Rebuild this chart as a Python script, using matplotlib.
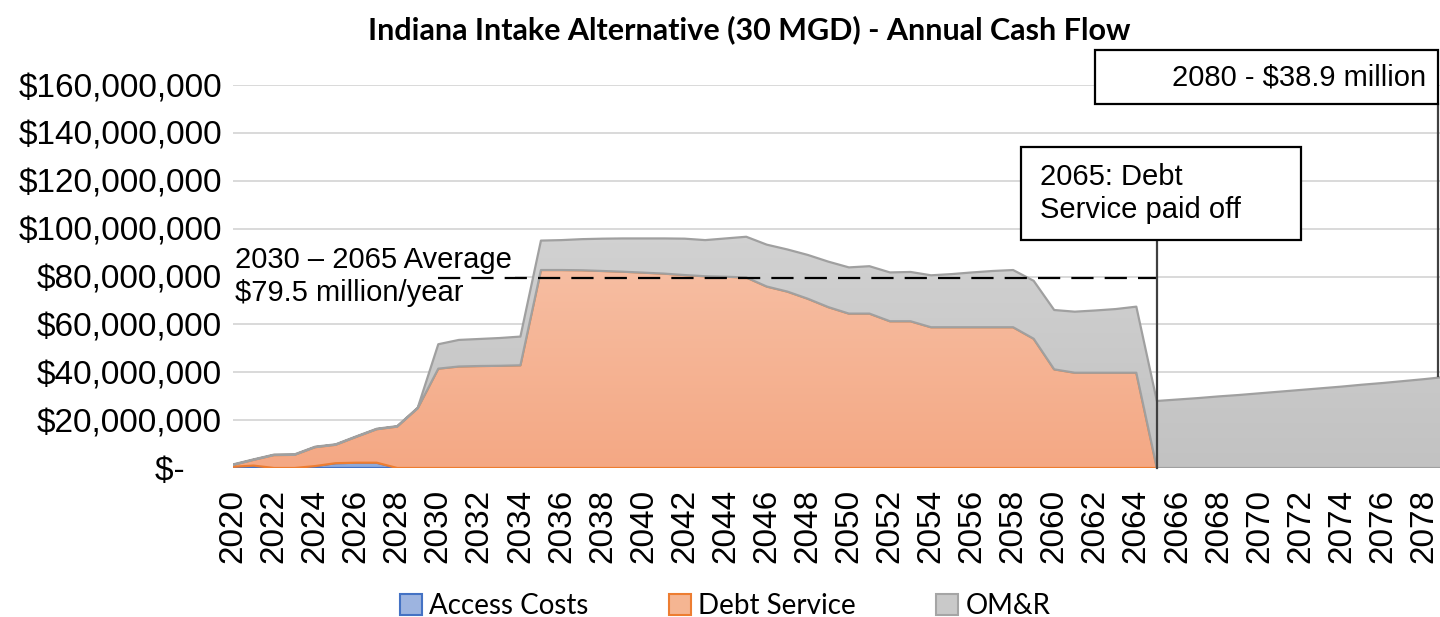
import numpy as np
import matplotlib.pyplot as plt
from matplotlib.colors import LinearSegmentedColormap
from matplotlib.patches import Patch, Rectangle
from matplotlib.ticker import FuncFormatter, MultipleLocator

# values in $ millions
years = list(range(2020, 2081))

access = [0.5, 1.0, 0.0, 0.0, 0.8, 2.0, 2.2, 2.2, 0.0, 0.0] + [0.0] * 51

debt = [0.8, 2.4, 5.4, 5.5, 7.9, 7.7, 10.8, 14.0, 17.3, 25.0,
        41.5, 42.4, 42.6, 42.7, 42.9, 82.7, 82.7, 82.6, 82.3, 82.0,
        81.6, 81.2, 80.6, 80.1, 79.9, 79.6, 75.8, 73.7, 70.7, 67.2,
        64.5, 64.5, 61.3, 61.3, 58.8, 58.8, 58.8, 58.8, 58.8, 54.0,
        41.2, 39.8, 39.8, 39.8, 39.8, 0.0]  # 2020-2065, paid off in 2065

omr = [0.2, 0.2, 0.2, 0.2, 0.2, 0.2, 0.2, 0.2, 0.2, 0.2,
       10.2, 11.1, 11.3, 11.6, 12.0, 12.3, 12.5, 13.0, 13.5, 13.9,
       14.3, 14.7, 15.2, 15.1, 16.0, 17.0, 17.5, 17.6, 18.3, 19.0,
       19.3, 19.8, 20.4, 20.6, 21.7, 22.2, 22.9, 23.5, 23.9, 24.2,
       24.8, 25.5, 26.0, 26.6, 27.6, 28.0, 28.6, 29.2, 29.9, 30.5,
       31.2, 31.9, 32.6, 33.3, 34.0, 34.8, 35.5, 36.3, 37.1, 38.0,
       38.9]

avg_2030_2065 = 79.5

M = 1e6
x = np.array(years, dtype=float)
a = np.array(access) * M
d = np.zeros(len(years))
d[:len(debt)] = np.array(debt) * M
o = np.array(omr) * M

fig = plt.figure(figsize=(14.4, 6.17), dpi=100)
ax = fig.add_axes([233 / 1440, 1 - 468 / 617, 60 * 20.53 / 1440, 383 / 617])

def grad_area(xs, y0, y1, c_top, c_bot, edge, z):
    poly = ax.fill_between(xs, y0, y1, facecolor='none', edgecolor=edge,
                           lw=1.6, zorder=z + 0.5)
    cmap = LinearSegmentedColormap.from_list('g', [c_bot, c_top])
    im = ax.imshow(np.linspace(0, 1, 256).reshape(-1, 1), origin='lower',
                   extent=[xs[0], xs[-1], 0, 100 * M], aspect='auto',
                   cmap=cmap, zorder=z)
    im.set_clip_path(poly.get_paths()[0], transform=ax.transData)

n_debt = len(debt)
grad_area(x[:12], 0, a[:12], '#a9bde6', '#8eaadb', '#4472c4', 2)
grad_area(x[:n_debt], a[:n_debt], a[:n_debt] + d[:n_debt], '#f7c2a8', '#f4a884', '#ed7d31', 3)
grad_area(x, a + d, a + d + o, '#d2d2d2', '#c2c2c2', '#a0a0a0', 4)

ax.set_xlim(2020, 2080)
ax.set_ylim(0, 160 * M)
ax.yaxis.set_major_locator(MultipleLocator(20 * M))
ax.set_xticks(range(2020, 2079, 2))
ax.yaxis.set_major_formatter(FuncFormatter(
    lambda v, p: '$-    ' if v == 0 else f'${v:,.0f}'))
ax.grid(axis='y', color='#d9d9d9', lw=1.4, zorder=0)
ax.set_axisbelow(True)
for s in ax.spines.values():
    s.set_visible(False)
ax.tick_params(axis='both', length=0, labelsize=24)
ax.tick_params(axis='y', pad=8)
ax.tick_params(axis='x', pad=15, rotation=90)
for lab in ax.get_xticklabels() + ax.get_yticklabels():
    lab.set_fontfamily('Liberation Sans')

# average line + label
ax.plot([2030, 2065], [avg_2030_2065 * M] * 2, color='black', lw=1.6,
        dashes=(10, 5), zorder=7)
ax.text(2020.1, 80 * M, '2030 \u2013 2065 Average\n$79.5 million/year',
        fontsize=21, family='Liberation Sans', va='center', ha='left',
        linespacing=1.2, zorder=6,
        bbox=dict(facecolor='white', edgecolor='none', pad=2))

# callout: debt paid off
ax.plot([2065, 2065], [0, 95.2 * M], color='#404040', lw=1.6, zorder=8, clip_on=False)
ax.add_patch(Rectangle((2058.4, 95.2 * M), 13.6, 38.9 * M, facecolor='white',
                       edgecolor='black', lw=1.6, zorder=8, clip_on=False))
ax.text(2059.3, 114.7 * M, '2065: Debt\nService paid off', fontsize=21,
        family='Liberation Sans', va='center', ha='left', linespacing=1.2,
        zorder=9, clip_on=False)

# callout: 2080 value
ax.plot([2078.7, 2078.7], [38.3 * M, 152 * M], color='#404040', lw=1.6,
        zorder=8, clip_on=False)
ax.add_patch(Rectangle((2062.0, 152 * M), 16.7, 22.6 * M, facecolor='white',
                       edgecolor='black', lw=1.6, zorder=8, clip_on=False))
ax.text(2078.1, 163.3 * M, '2080 - $38.9 million', fontsize=21,
        family='Liberation Sans', va='center', ha='right', zorder=9,
        clip_on=False)

fig.text(749 / 1440, 1 - 30 / 617,
         'Indiana Intake Alternative (30 MGD) - Annual Cash Flow',
         ha='center', va='center', fontsize=22, fontweight='bold', family='Lato')

handles = [Patch(facecolor='#9db4e0', edgecolor='#4472c4', lw=1.5),
           Patch(facecolor='#f5b592', edgecolor='#ed7d31', lw=1.5),
           Patch(facecolor='#c9c9c9', edgecolor='#a5a5a5', lw=1.5)]
fig.legend(handles, ['Access Costs', 'Debt Service', 'OM&R'], loc='center',
           bbox_to_anchor=(725 / 1440, 1 - 606 / 617), ncol=3, frameon=False,
           prop={'family': 'Lato', 'size': 20}, handlelength=0.8,
           handleheight=0.8, handletextpad=0.25, columnspacing=2.9)

fig.savefig('out.png', dpi=100)
